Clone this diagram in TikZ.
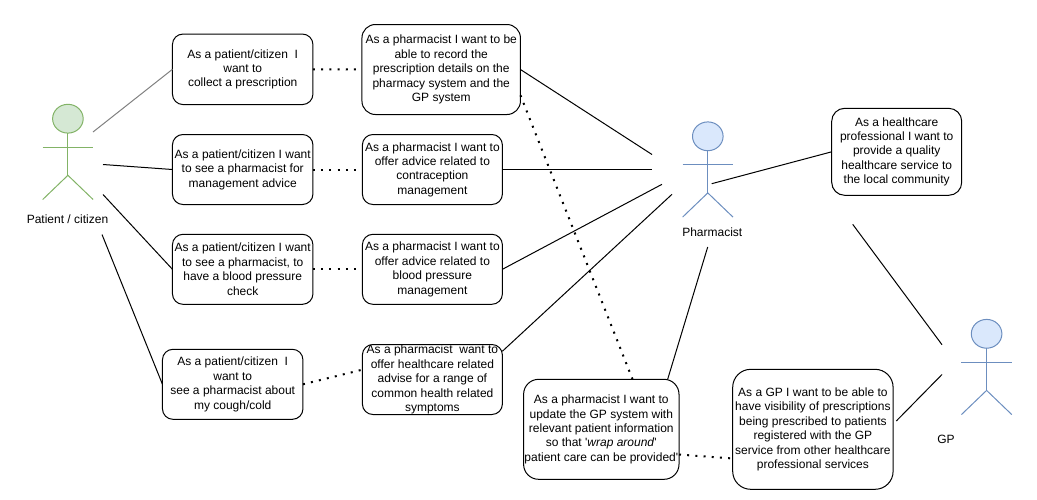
\documentclass[tikz,border=0pt]{standalone}
\usepackage{fontspec}
\usetikzlibrary{shapes}
\newfontfamily\storyfont{Liberation Sans}
\definecolor{greenline}{HTML}{82B366}
\definecolor{greenfill}{HTML}{D5E8D4}
\definecolor{blueline}{HTML}{6C8EBF}
\definecolor{bluefill}{HTML}{DAE8FC}
\tikzset{
  story/.style={draw,line width=1pt,rounded corners=10.5pt,inner sep=0pt,outer sep=0pt,align=center,
    font=\storyfont\fontsize{12}{14.4}\selectfont},
  actorlabel/.style={inner sep=0pt,font=\storyfont\fontsize{12}{14.4}\selectfont},
  link/.style={line width=1pt},
  dots/.style={line width=2pt,dash pattern=on 2pt off 6.2pt},
  head/.style={draw,ellipse,inner sep=0pt,outer sep=0pt,minimum width=30.6pt,minimum height=28.8pt,line width=1pt}
}
% #1 name, #2 x of the body, #3 top of the head, #4 line colour, #5 fill colour
\newcommand{\actorfig}[5]{
  \node[head,draw=#4,fill=#5] (#1) at (#2,#3+14.4) {};
  \draw[#4,line width=1pt] (#1.south) -- (#2,#3+71);
  \draw[#4,line width=1pt] (#2-25.2,#3+43) -- (#2+25.2,#3+43);
  \draw[#4,line width=1pt] (#2-25.2,#3+95.2) -- (#2,#3+71) -- (#2+25.2,#3+95.2);
}
\begin{document}
\begin{tikzpicture}[x=1pt,y=-1pt]
\useasboundingbox (0,0) rectangle (1037,499);
% actors
\actorfig{patient}{67.9}{104.3}{greenline}{greenfill}
\actorfig{pharmacist}{707.8}{121.9}{blueline}{bluefill}
\actorfig{gp}{986.6}{319.4}{blueline}{bluefill}
\node[actorlabel] (patientlabel) at (67.5,219.5) {Patient / citizen};
\node[actorlabel] (pharmacistlabel) at (712.3,232) {Pharmacist};
\node[actorlabel] (gplabel) at (946,439) {GP};
% patient stories
\node[story,minimum width=140.5pt,minimum height=70.5pt] (a1) at (242.7,69.3) {As a patient/citizen\ \ I\\want to\\collect a prescription};
\node[story,minimum width=140.5pt,minimum height=70pt] (a2) at (242.7,169.5) {As a patient/citizen I want\\to see a pharmacist for\\management advice};
\node[story,minimum width=140.5pt,minimum height=70pt] (a3) at (242.7,269.3) {As a patient/citizen I want\\to see a pharmacist, to\\have a blood pressure\\check};
\node[story,minimum width=140.5pt,minimum height=70pt] (a4) at (232.7,384.3) {As a patient/citizen\ \ I\\want to\\see a pharmacist about\\my cough/cold};
% pharmacist stories
\node[story,rounded corners=13.5pt,minimum width=158.5pt,minimum height=90pt] (b1) at (441.2,69.5) {As a pharmacist I want to be\\able to record the\\prescription details on the\\pharmacy system and the\\GP system};
\node[story,minimum width=140pt,minimum height=70pt] (b2) at (432.4,169.5) {As a pharmacist I want to\\offer advice related to\\contraception\\management};
\node[story,minimum width=140pt,minimum height=70pt] (b3) at (432.4,269.3) {As a pharmacist I want to\\offer advice related to\\blood pressure\\management};
\node[story,minimum width=140pt,minimum height=70pt] (b4) at (432.4,379.5) {As a pharmacist\ \ want to\\offer healthcare related\\advise for a range of\\common health related\\symptoms\hspace{6pt}};
\node[story,rounded corners=15pt,minimum width=155.4pt,minimum height=100pt] (c) at (601.3,429.3) {As a pharmacist I want to\\update the GP system with\\relevant patient information\\so that '\textit{wrap around}'\\patient care can be provided'};
\node[story,rounded corners=18pt,minimum width=160.4pt,minimum height=120pt] (d) at (812.9,429.3) {As a GP I want to be able to\\have visibility of prescriptions\\being prescribed to patients\\registered with the GP\\service from other healthcare\\professional services};
\node[story,rounded corners=13pt,minimum width=130pt,minimum height=87pt] (e) at (896.7,151.8) {As a healthcare\\professional I want to\\provide a quality\\healthcare service to\\the local community};
% free ends beside the actors
\coordinate (patient1) at (93,132);
\coordinate (patient2) at (103,164.5);
\coordinate (patient3) at (103,194.5);
\coordinate (patient4) at (102,234.5);
\coordinate (pharm1) at (652,154.5);
\coordinate (pharm2) at (652,169.5);
\coordinate (pharm3) at (662,184.3);
\coordinate (pharm4) at (672,194.3);
\coordinate (pharm5) at (711.7,183.7);
\coordinate (pharm6) at (707.7,247);
\coordinate (gp1) at (942,344.7);
\coordinate (gp2) at (942,374.5);
\coordinate (efoot) at (852.7,224.3);
\coordinate (dside) at (896.3,421);
% patient links
\draw[link,gray] (patient1) -- (a1.west);
\draw[link] (patient2) -- (a2.west);
\draw[link] (patient3) -- (a3.west);
\draw[link] (patient4) -- (a4.west);
% pharmacist links
\draw[link] (b1.east) -- (pharm1);
\draw[link] (b2.east) -- (pharm2);
\draw[link] (b3.east) -- (pharm3);
\draw[link] (b4.22) -- (pharm4);
\draw[link] (pharm5) -- (e.west);
\draw[link] (pharm6) -- (c.37);
% gp links
\draw[link] (efoot) -- (gp1);
\draw[link] (dside) -- (gp2);
% dotted links
\draw[dots] (a1.east) -- (b1.west);
\draw[dots] (a2.east) -- (b2.west);
\draw[dots] (a3.east) -- (b3.west);
\draw[dots] (a4.east) -- (b4.172);
\draw[dots] (b1.-18) -- (c.58);
\draw[dots] (c.-18) -- (d.200);
\end{tikzpicture}
\end{document}
